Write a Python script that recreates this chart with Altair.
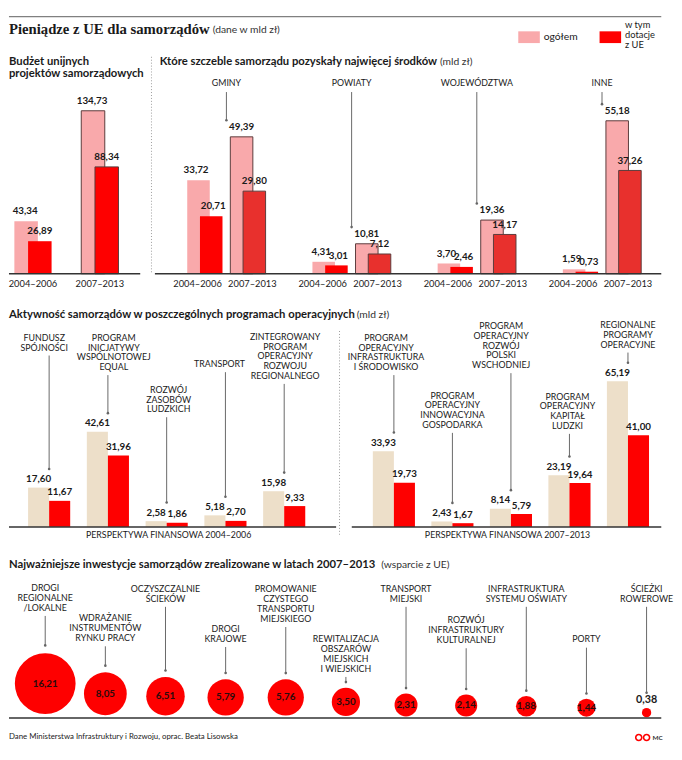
import math
import altair as alt
import pandas as pd

# ---------------- data ----------------
periods = ["2004–2006", "2007–2013"]
budget_total = [43.34, 134.73]
budget_eu = [26.89, 88.34]

levels = ["GMINY", "POWIATY", "WOJEWÓDZTWA", "INNE"]
levels_total_0406 = [33.72, 4.31, 3.70, 1.59]
levels_eu_0406 = [20.71, 3.01, 2.46, 0.73]
levels_total_0713 = [49.39, 10.81, 19.36, 55.18]
levels_eu_0713 = [29.80, 7.12, 14.17, 37.26]

prog_0406 = ["FUNDUSZ\nSPÓJNOŚCI",
             "PROGRAM\nINICJATYWY\nWSPÓLNOTOWEJ\nEQUAL",
             "ROZWÓJ\nZASOBÓW\nLUDZKICH",
             "TRANSPORT",
             "ZINTEGROWANY\nPROGRAM\nOPERACYJNY\nROZWOJU\nREGIONALNEGO"]
prog_0406_total = [17.60, 42.61, 2.58, 5.18, 15.98]
prog_0406_eu = [11.67, 31.96, 1.86, 2.70, 9.33]

prog_0713 = ["PROGRAM\nOPERACYJNY\nINFRASTRUKTURA\nI ŚRODOWISKO",
             "PROGRAM\nOPERACYJNY\nINNOWACYJNA\nGOSPODARKA",
             "PROGRAM\nOPERACYJNY\nROZWÓJ\nPOLSKI\nWSCHODNIEJ",
             "PROGRAM\nOPERACYJNY\nKAPITAŁ\nLUDZKI",
             "REGIONALNE\nPROGRAMY\nOPERACYJNE"]
prog_0713_total = [33.93, 2.43, 8.14, 23.19, 65.19]
prog_0713_eu = [19.73, 1.67, 5.79, 19.64, 41.00]

invest = ["DROGI\nREGIONALNE\n/LOKALNE",
          "WDRAŻANIE\nINSTRUMENTÓW\nRYNKU PRACY",
          "OCZYSZCZALNIE\nŚCIEKÓW",
          "DROGI\nKRAJOWE",
          "PROMOWANIE\nCZYSTEGO\nTRANSPORTU\nMIEJSKIEGO",
          "REWITALIZACJA\nOBSZARÓW\nMIEJSKICH\nI WIEJSKICH",
          "TRANSPORT\nMIEJSKI",
          "ROZWÓJ\nINFRASTRUKTURY\nKULTURALNEJ",
          "INFRASTRUKTURA\nSYSTEMU OŚWIATY",
          "PORTY",
          "ŚCIEŻKI\nROWEROWE"]
invest_eu = [16.21, 8.05, 6.51, 5.79, 5.76, 3.50, 2.31, 2.14, 1.88, 1.44, 0.38]

# ---------------- layout (annotation placement, px) ----------------
prog_0406_label_top = [41, 41, 94, 68, 40]
prog_0406_label_dx = [-5, 6, 2, -6, 1]
prog_0713_label_top = [41, 100, 29, 101, 28]
prog_0713_label_dx = [-8, 0, -10, -2, 0]
invest_label_top = [44, 75, 45, 86, 45, 96, 45, 77, 45, 97, 45]

# ---------------- style ----------------
W = 666
SANS = "Lato"
SERIF = "Liberation Serif"
INK = "#1a1a1a"
PINK = "#f9a9ab"
RED = "#fe0000"
RED2 = "#e8302d"
OUTLINE = "#5a3a3a"
BEIGE = "#eddfc9"
LEAD = "#666666"
BASE = "#333333"
FMT = "replace(format(datum.{f}, '.2f'), '.', ',')"
IS07 = "datum.period == '2007–2013'"
TSIZE = 11.5

ONE = alt.Data(values=[{"k": 0}])


def label(text, x, y, size=10.5, weight="normal", align="left", baseline="middle",
          color=INK, font=SANS, lh=None):
    kw = dict(text=text, align=align, baseline=baseline, fontSize=size,
              fontWeight=weight, color=color, font=font, lineBreak="\n")
    if lh is not None:
        kw["lineHeight"] = lh
    return alt.Chart(ONE).mark_text(**kw).encode(x=alt.value(x), y=alt.value(y))


def hline(x1, x2, y, color=BASE, width=1.5, dash=None):
    kw = dict(color=color, strokeWidth=width)
    if dash:
        kw["strokeDash"] = dash
    return alt.Chart(ONE).mark_rule(**kw).encode(x=alt.value(x1), x2=alt.value(x2), y=alt.value(y))


def vline(x, y1, y2, color="#9a9a9a", width=1, dash=None):
    kw = dict(color=color, strokeWidth=width)
    if dash:
        kw["strokeDash"] = dash
    return alt.Chart(ONE).mark_rule(**kw).encode(x=alt.value(x), y=alt.value(y1), y2=alt.value(y2))


def pscale(domain, rng):
    return alt.Scale(type="point", domain=domain, range=rng, padding=0)


IND = dict(x="independent", y="independent")

# ---------------- header ----------------
header = alt.layer(
    hline(0, W, 7, color="#808080", width=1.5),
    label("Pieniądze z UE dla samorządów", 0, 20, size=15, weight="bold", font=SERIF),
    label("(dane w mld zł)", 208, 21, size=10.5, color="#333333"),
    alt.Chart(ONE).mark_rect(color=PINK).encode(x=alt.value(520), x2=alt.value(542), y=alt.value(22), y2=alt.value(34)),
    label("ogółem", 546, 28, size=10.5),
    alt.Chart(ONE).mark_rect(color=RED).encode(x=alt.value(603), x2=alt.value(625), y=alt.value(22), y2=alt.value(34)),
    label("w tym\ndotacje\nz UE", 629, 11, size=9.5, baseline="top", lh=10),
).properties(width=W, height=43)

val_kw = dict(fontSize=10, fontWeight="bold", font=SANS, color=INK, baseline="middle", dy=-10)

# ---------------- section 1 left ----------------
df_b = pd.DataFrame({"period": periods, "total": budget_total, "eu": budget_eu})
xb = alt.X("period:N", scale=pscale(periods, [24.5, 92.8]), axis=None)
ysb = alt.Scale(domain=[0, 140], range=[226.5, 226.5 - 140 * 1.235])
cb = alt.Chart(df_b).transform_calculate(lt=FMT.format(f="total"), le=FMT.format(f="eu"))
sw = alt.condition(IS07, alt.value(1), alt.value(0))

s1_layers = [
    label("Budżet unijnych\nprojektów samorządowych", 0, 4, size=TSIZE, weight="bold", baseline="top", lh=13),
    cb.mark_bar(width=24, xOffset=-7, color=PINK, stroke=OUTLINE).encode(
        x=xb, y=alt.Y("total:Q", scale=ysb, axis=None), strokeWidth=sw),
    cb.mark_bar(width=24, xOffset=7, color=RED, stroke=OUTLINE).encode(
        x=xb, y=alt.Y("eu:Q", scale=ysb, axis=None), strokeWidth=sw),
    hline(0, 134, 226.5),
    cb.mark_text(xOffset=-8, **val_kw).encode(x=xb, y=alt.Y("total:Q", scale=ysb, axis=None), text="lt:N"),
    cb.mark_text(xOffset=7, **val_kw).encode(x=xb, y=alt.Y("eu:Q", scale=ysb, axis=None), text="le:N"),
    cb.mark_text(fontSize=9.5, font=SANS, color=INK).encode(x=xb, y=alt.value(237), text="period:N"),
]

# ---------------- section 1 right ----------------
OX1 = 145
rows = []
for i, g in enumerate(levels):
    rows.append(dict(group=g, period=periods[0], total=levels_total_0406[i], eu=levels_eu_0406[i]))
    rows.append(dict(group=g, period=periods[1], total=levels_total_0713[i], eu=levels_eu_0713[i]))
df_l = pd.DataFrame(rows)
xg = alt.X("group:N", scale=pscale(levels, [OX1 + 77, OX1 + 460.5]), axis=None)
ysl = alt.Scale(domain=[0, 60], range=[226.5, 226.5 - 60 * 2.83])
cl = alt.Chart(df_l).transform_calculate(lt=FMT.format(f="total"), le=FMT.format(f="eu"))

s1_layers += [
    vline(OX1 + 0.5, 5, 226, dash=[1, 2]),
    label("Które szczeble samorządu pozyskały najwięcej środków", OX1 + 9, 10, size=TSIZE, weight="bold"),
    label("(mld zł)", OX1 + 295, 10, color="#333333"),
]
# bar offsets (pink, red), value-label offsets (pink, red), period label offset, outline
offs = {periods[0]: (-28.5, -15.5, -31, -13.5, -29.5, 0),
        periods[1]: (15.5, 28.5, 15.5, 28.5, 26.5, 1)}
for p in periods:
    op, orr, lp, lr, olab, k = offs[p]
    cp = cl.transform_filter(f"datum.period == '{p}'")
    redc = RED if k == 0 else RED2
    s1_layers += [
        cp.mark_bar(width=23, xOffset=op, color=PINK, stroke=OUTLINE, strokeWidth=k).encode(
            x=xg, y=alt.Y("total:Q", scale=ysl, axis=None)),
        cp.mark_bar(width=23, xOffset=orr, color=redc, stroke=OUTLINE, strokeWidth=k).encode(
            x=xg, y=alt.Y("eu:Q", scale=ysl, axis=None)),
    ]
s1_layers.append(hline(OX1 + 4, OX1 + 521, 226.5))
for p in periods:
    op, orr, lp, lr, olab, k = offs[p]
    cp = cl.transform_filter(f"datum.period == '{p}'")
    s1_layers += [
        cp.mark_text(xOffset=lp, **val_kw).encode(x=xg, y=alt.Y("total:Q", scale=ysl, axis=None), text="lt:N"),
        cp.mark_text(xOffset=lr, **val_kw).encode(x=xg, y=alt.Y("eu:Q", scale=ysl, axis=None), text="le:N"),
        cp.mark_text(xOffset=olab, fontSize=9.5, font=SANS, color=INK).encode(
            x=xg, y=alt.value(237), text="period:N"),
    ]
c07 = cl.transform_filter(IS07)
s1_layers += [
    c07.mark_text(baseline="top", fontSize=9, font=SANS, color=INK).encode(x=xg, y=alt.value(28), text="group:N"),
    c07.mark_rule(color=LEAD, yOffset=-17).encode(x=xg, y=alt.Y("total:Q", scale=ysl, axis=None), y2=alt.value(41)),
    c07.mark_circle(color=LEAD, size=7, opacity=1, yOffset=-17).encode(x=xg, y=alt.Y("total:Q", scale=ysl, axis=None)),
]
row1 = alt.layer(*s1_layers).resolve_scale(**IND).properties(width=W, height=247)


# ---------------- section 2 ----------------
def prog_layers(names, totals, eus, rng, tops, dxs, base_x, sub, sub_x):
    df = pd.DataFrame({"idx": list(range(len(names))), "name": names, "total": totals, "eu": eus})
    x = alt.X("name:N", scale=pscale(names, rng), axis=None)
    ys = alt.Scale(domain=[0, 70], range=[238, 238 - 70 * 2.28])
    c = alt.Chart(df).transform_calculate(lt=FMT.format(f="total"), le=FMT.format(f="eu"))
    vk = dict(fontSize=10, fontWeight="bold", font=SANS, color=INK, baseline="middle", dy=-8.5)
    layers = [
        c.mark_bar(width=21.5, xOffset=-10.75, color=BEIGE).encode(x=x, y=alt.Y("total:Q", scale=ys, axis=None)),
        c.mark_bar(width=21.5, xOffset=10.75, color=RED).encode(x=x, y=alt.Y("eu:Q", scale=ys, axis=None)),
        hline(base_x[0], base_x[1], 238),
        c.mark_text(xOffset=-10.75, **vk).encode(x=x, y=alt.Y("total:Q", scale=ys, axis=None), text="lt:N"),
        c.mark_text(xOffset=10.75, **vk).encode(x=x, y=alt.Y("eu:Q", scale=ys, axis=None), text="le:N"),
        label(sub, sub_x, 246.5, size=9, align="center"),
    ]
    for i, (t, dx) in enumerate(zip(tops, dxs)):
        n = names[i].count("\n") + 1
        ci = c.transform_filter(f"datum.idx == {i}")
        layers += [
            ci.mark_text(baseline="top", align="center", fontSize=9, lineHeight=10, lineBreak="\n",
                         xOffset=dx, color=INK, font=SANS).encode(x=x, y=alt.value(t), text="name:N"),
            ci.mark_rule(color=LEAD, yOffset=-19).encode(
                x=x, y=alt.Y("total:Q", scale=ys, axis=None), y2=alt.value(t + n * 10 + 2)),
            ci.mark_circle(color=LEAD, size=7, opacity=1, yOffset=-19).encode(
                x=x, y=alt.Y("total:Q", scale=ys, axis=None)),
        ]
    return layers


OX2 = 337
s2_layers = [
    label("Aktywność samorządów w poszczególnych programach operacyjnych", 0, 22, size=TSIZE, weight="bold"),
    label("(mld zł)", 355, 22, color="#333333"),
    vline(OX2 + 0.5, 38, 248, dash=[1, 2]),
]
s2_layers += prog_layers(prog_0406, prog_0406_total, prog_0406_eu, [41, 281], prog_0406_label_top,
                         prog_0406_label_dx, (0, 334), "PERSPEKTYWA FINANSOWA 2004–2006", 163)
s2_layers += prog_layers(prog_0713, prog_0713_total, prog_0713_eu, [OX2 + 56, OX2 + 295], prog_0713_label_top,
                         prog_0713_label_dx, (OX2 + 13, OX2 + 329), "PERSPEKTYWA FINANSOWA 2007–2013", OX2 + 172)
row2 = alt.layer(*s2_layers).resolve_scale(**IND).properties(width=W, height=252)

# ---------------- section 3 ----------------
RMAX = 35
BASE3 = 181
df_i = pd.DataFrame({"idx": list(range(len(invest))), "name": invest, "eu": invest_eu})
xi = alt.X("name:N", scale=pscale(invest, [37, 651]), axis=None)
ypx = alt.Scale(domain=[0, BASE3], range=[BASE3, 0])
ci3 = (alt.Chart(df_i)
       .transform_joinaggregate(vmax="max(eu)")
       .transform_calculate(r=f"{RMAX}*sqrt(datum.eu/datum.vmax)", lbl=FMT.format(f="eu"))
       .transform_calculate(tip="datum.eu >= 1 ? 2*datum.r + 4 : 2*datum.r + 15",
                            vlab="2*datum.r + 8"))
s3_layers = [
    label("Najważniejsze inwestycje samorządów zrealizowane w latach 2007–2013", 0, 25, size=TSIZE, weight="bold"),
    label("(wsparcie z UE)", 380, 25, color="#333333"),
    ci3.mark_circle(color=RED, opacity=1).encode(
        x=xi, y=alt.Y("r:Q", scale=ypx, axis=None),
        size=alt.Size("eu:Q", scale=alt.Scale(domain=[0, max(invest_eu)], range=[0, math.pi * RMAX ** 2]),
                      legend=None)),
    hline(0, W, BASE3),
    ci3.transform_filter("datum.eu >= 1").mark_text(fontSize=10, fontWeight="bold", font=SANS,
                                                     color="#2b0b0b").encode(
        x=xi, y=alt.Y("r:Q", scale=ypx, axis=None), text="lbl:N"),
    ci3.transform_filter("datum.eu < 1").mark_text(fontSize=11, fontWeight="bold", font=SANS,
                                                    color=INK).encode(
        x=xi, y=alt.Y("vlab:Q", scale=ypx, axis=None), text="lbl:N"),
]
for i, t in enumerate(invest_label_top):
    n = invest[i].count("\n") + 1
    cf = ci3.transform_filter(f"datum.idx == {i}")
    s3_layers += [
        cf.mark_text(baseline="top", align="center", fontSize=9, lineHeight=10.3, lineBreak="\n",
                     color=INK, font=SANS).encode(x=xi, y=alt.value(t), text="name:N"),
        cf.mark_rule(color=LEAD).encode(x=xi, y=alt.Y("tip:Q", scale=ypx, axis=None),
                                        y2=alt.value(t + n * 10.3 + 2)),
        cf.mark_circle(color=LEAD, size=7, opacity=1).encode(x=xi, y=alt.Y("tip:Q", scale=ypx, axis=None)),
    ]
sec3 = alt.layer(*s3_layers).properties(width=W, height=193)

# ---------------- footer ----------------
footer = alt.layer(
    label("Dane Ministerstwa Infrastruktury i Rozwoju, oprac. Beata Lisowska", 0, 8, size=8, color="#222222"),
    alt.Chart(ONE).mark_point(shape="circle", color=RED, strokeWidth=1.6, size=38, opacity=1).encode(
        x=alt.value(643), y=alt.value(8)),
    alt.Chart(ONE).mark_point(shape="circle", color=RED, strokeWidth=1.6, size=38, opacity=1).encode(
        x=alt.value(651), y=alt.value(8)),
    label("MC", 657, 8.5, size=6.5, weight="bold", color="#333333"),
).properties(width=W, height=15)

chart = (alt.vconcat(header, row1, row2, sec3, footer, spacing=0, bounds="flush")
         .properties(padding={"left": 0, "top": -6, "right": 0, "bottom": 0}, background="white")
         .configure_view(stroke=None))

chart.save("out.html", embed_options={"renderer": "svg", "actions": False})
